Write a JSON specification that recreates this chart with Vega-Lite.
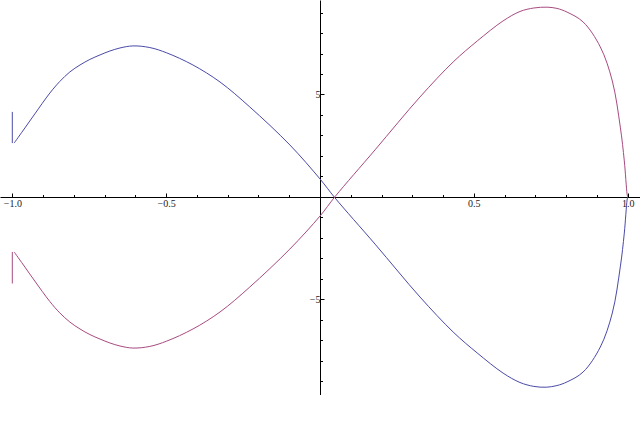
{
  "$schema": "https://vega.github.io/schema/vega-lite/v6.json",
  "width": 640,
  "height": 395,
  "autosize": {"type": "none"},
  "padding": 0,
  "background": "white",
  "config": {
    "view": {"stroke": null},
    "axis": {
      "grid": false,
      "domainColor": "black",
      "domainWidth": 1,
      "tickColor": "black",
      "tickWidth": 1,
      "labelFont": "Liberation Serif",
      "labelFontSize": 10,
      "labelColor": "#222222",
      "labelOverlap": false,
      "labelFlush": false,
      "title": null
    }
  },
  "data": {
    "values": [
      {"s": "b", "g": "b0", "i": 1, "x": -1.0, "y": 4.15},
      {"s": "b", "g": "b0", "i": 2, "x": -1.0, "y": 2.63},
      {"s": "b", "g": "b1", "i": 3, "x": -0.994, "y": 2.63},
      {"s": "b", "g": "b1", "i": 4, "x": -0.959, "y": 3.37},
      {"s": "b", "g": "b1", "i": 5, "x": -0.927, "y": 4.05},
      {"s": "b", "g": "b1", "i": 6, "x": -0.878, "y": 5.07},
      {"s": "b", "g": "b1", "i": 7, "x": -0.846, "y": 5.63},
      {"s": "b", "g": "b1", "i": 8, "x": -0.813, "y": 6.1},
      {"s": "b", "g": "b1", "i": 9, "x": -0.78, "y": 6.44},
      {"s": "b", "g": "b1", "i": 10, "x": -0.748, "y": 6.71},
      {"s": "b", "g": "b1", "i": 11, "x": -0.715, "y": 6.93},
      {"s": "b", "g": "b1", "i": 12, "x": -0.683, "y": 7.12},
      {"s": "b", "g": "b1", "i": 13, "x": -0.65, "y": 7.27},
      {"s": "b", "g": "b1", "i": 14, "x": -0.608, "y": 7.37},
      {"s": "b", "g": "b1", "i": 15, "x": -0.553, "y": 7.29},
      {"s": "b", "g": "b1", "i": 16, "x": -0.498, "y": 7.03},
      {"s": "b", "g": "b1", "i": 17, "x": -0.413, "y": 6.44},
      {"s": "b", "g": "b1", "i": 18, "x": -0.325, "y": 5.61},
      {"s": "b", "g": "b1", "i": 19, "x": -0.228, "y": 4.39},
      {"s": "b", "g": "b1", "i": 20, "x": -0.098, "y": 2.54},
      {"s": "b", "g": "b1", "i": 21, "x": 0.0, "y": 0.88},
      {"s": "b", "g": "b1", "i": 22, "x": 0.049, "y": -0.05},
      {"s": "b", "g": "b1", "i": 23, "x": 0.179, "y": -2.3},
      {"s": "b", "g": "b1", "i": 24, "x": 0.325, "y": -4.88},
      {"s": "b", "g": "b1", "i": 25, "x": 0.433, "y": -6.59},
      {"s": "b", "g": "b1", "i": 26, "x": 0.511, "y": -7.61},
      {"s": "b", "g": "b1", "i": 27, "x": 0.595, "y": -8.59},
      {"s": "b", "g": "b1", "i": 28, "x": 0.65, "y": -9.05},
      {"s": "b", "g": "b1", "i": 29, "x": 0.695, "y": -9.24},
      {"s": "b", "g": "b1", "i": 30, "x": 0.735, "y": -9.28},
      {"s": "b", "g": "b1", "i": 31, "x": 0.77, "y": -9.2},
      {"s": "b", "g": "b1", "i": 32, "x": 0.803, "y": -9.02},
      {"s": "b", "g": "b1", "i": 33, "x": 0.855, "y": -8.54},
      {"s": "b", "g": "b1", "i": 34, "x": 0.911, "y": -7.32},
      {"s": "b", "g": "b1", "i": 35, "x": 0.95, "y": -5.66},
      {"s": "b", "g": "b1", "i": 36, "x": 0.976, "y": -3.41},
      {"s": "b", "g": "b1", "i": 37, "x": 0.989, "y": -1.76},
      {"s": "b", "g": "b1", "i": 38, "x": 0.998, "y": -0.15},
      {"s": "b", "g": "b1", "i": 39, "x": 1.0, "y": 0.0},
      {"s": "m", "g": "m0", "i": 1, "x": -1.0, "y": -4.22},
      {"s": "m", "g": "m0", "i": 2, "x": -1.0, "y": -2.68},
      {"s": "m", "g": "m1", "i": 3, "x": -0.994, "y": -2.68},
      {"s": "m", "g": "m1", "i": 4, "x": -0.959, "y": -3.42},
      {"s": "m", "g": "m1", "i": 5, "x": -0.927, "y": -4.1},
      {"s": "m", "g": "m1", "i": 6, "x": -0.878, "y": -5.1},
      {"s": "m", "g": "m1", "i": 7, "x": -0.846, "y": -5.65},
      {"s": "m", "g": "m1", "i": 8, "x": -0.813, "y": -6.1},
      {"s": "m", "g": "m1", "i": 9, "x": -0.78, "y": -6.44},
      {"s": "m", "g": "m1", "i": 10, "x": -0.748, "y": -6.71},
      {"s": "m", "g": "m1", "i": 11, "x": -0.715, "y": -6.93},
      {"s": "m", "g": "m1", "i": 12, "x": -0.683, "y": -7.12},
      {"s": "m", "g": "m1", "i": 13, "x": -0.65, "y": -7.27},
      {"s": "m", "g": "m1", "i": 14, "x": -0.608, "y": -7.37},
      {"s": "m", "g": "m1", "i": 15, "x": -0.553, "y": -7.29},
      {"s": "m", "g": "m1", "i": 16, "x": -0.498, "y": -7.03},
      {"s": "m", "g": "m1", "i": 17, "x": -0.413, "y": -6.44},
      {"s": "m", "g": "m1", "i": 18, "x": -0.325, "y": -5.61},
      {"s": "m", "g": "m1", "i": 19, "x": -0.228, "y": -4.39},
      {"s": "m", "g": "m1", "i": 20, "x": -0.098, "y": -2.54},
      {"s": "m", "g": "m1", "i": 21, "x": 0.0, "y": -0.93},
      {"s": "m", "g": "m1", "i": 22, "x": 0.049, "y": 0.02},
      {"s": "m", "g": "m1", "i": 23, "x": 0.179, "y": 2.3},
      {"s": "m", "g": "m1", "i": 24, "x": 0.325, "y": 4.88},
      {"s": "m", "g": "m1", "i": 25, "x": 0.433, "y": 6.59},
      {"s": "m", "g": "m1", "i": 26, "x": 0.511, "y": 7.61},
      {"s": "m", "g": "m1", "i": 27, "x": 0.595, "y": 8.59},
      {"s": "m", "g": "m1", "i": 28, "x": 0.65, "y": 9.05},
      {"s": "m", "g": "m1", "i": 29, "x": 0.695, "y": 9.22},
      {"s": "m", "g": "m1", "i": 30, "x": 0.738, "y": 9.26},
      {"s": "m", "g": "m1", "i": 31, "x": 0.77, "y": 9.2},
      {"s": "m", "g": "m1", "i": 32, "x": 0.803, "y": 9.02},
      {"s": "m", "g": "m1", "i": 33, "x": 0.855, "y": 8.54},
      {"s": "m", "g": "m1", "i": 34, "x": 0.911, "y": 7.32},
      {"s": "m", "g": "m1", "i": 35, "x": 0.95, "y": 5.66},
      {"s": "m", "g": "m1", "i": 36, "x": 0.976, "y": 3.41},
      {"s": "m", "g": "m1", "i": 37, "x": 0.989, "y": 1.76},
      {"s": "m", "g": "m1", "i": 38, "x": 0.998, "y": 0.15},
      {"s": "m", "g": "m1", "i": 39, "x": 1.0, "y": 0.0}
    ]
  },
  "mark": {"type": "line", "strokeWidth": 1, "interpolate": "catmull-rom"},
  "encoding": {
    "x": {
      "field": "x",
      "type": "quantitative",
      "scale": {"domain": [-1.04, 1.04], "nice": false, "zero": false},
      "axis": {
        "orient": "bottom",
        "offset": -198,
        "values": [-1, -0.9, -0.8, -0.7, -0.6, -0.5, -0.4, -0.3, -0.2, -0.1, 0.1, 0.2, 0.3, 0.4, 0.5, 0.6, 0.7, 0.8, 0.9, 1],
        "tickSize": {"condition": {"test": "abs(round(datum.value*10)) % 5 == 0", "value": -4}, "value": -2.5},
        "labelExpr": "abs(round(datum.value*10)) % 5 == 0 ? format(datum.value, '.1f') : ''",
        "labelPadding": 5
      }
    },
    "y": {
      "field": "y",
      "type": "quantitative",
      "scale": {"domain": [-9.66, 9.61], "nice": false, "zero": false},
      "axis": {
        "orient": "left",
        "offset": -320,
        "values": [-9, -8, -7, -6, -5, -4, -3, -2, -1, 1, 2, 3, 4, 5, 6, 7, 8, 9],
        "tickSize": {"condition": {"test": "abs(datum.value) == 5", "value": -4}, "value": -2.5},
        "labelExpr": "abs(datum.value) == 5 ? format(datum.value, 'd') : ''",
        "labelPadding": 4
      }
    },
    "color": {
      "field": "s",
      "type": "nominal",
      "scale": {"domain": ["b", "m"], "range": ["#4a4aa8", "#a84a80"]},
      "legend": null
    },
    "detail": {"field": "g", "type": "nominal"},
    "order": {"field": "i", "type": "quantitative"}
  }
}
